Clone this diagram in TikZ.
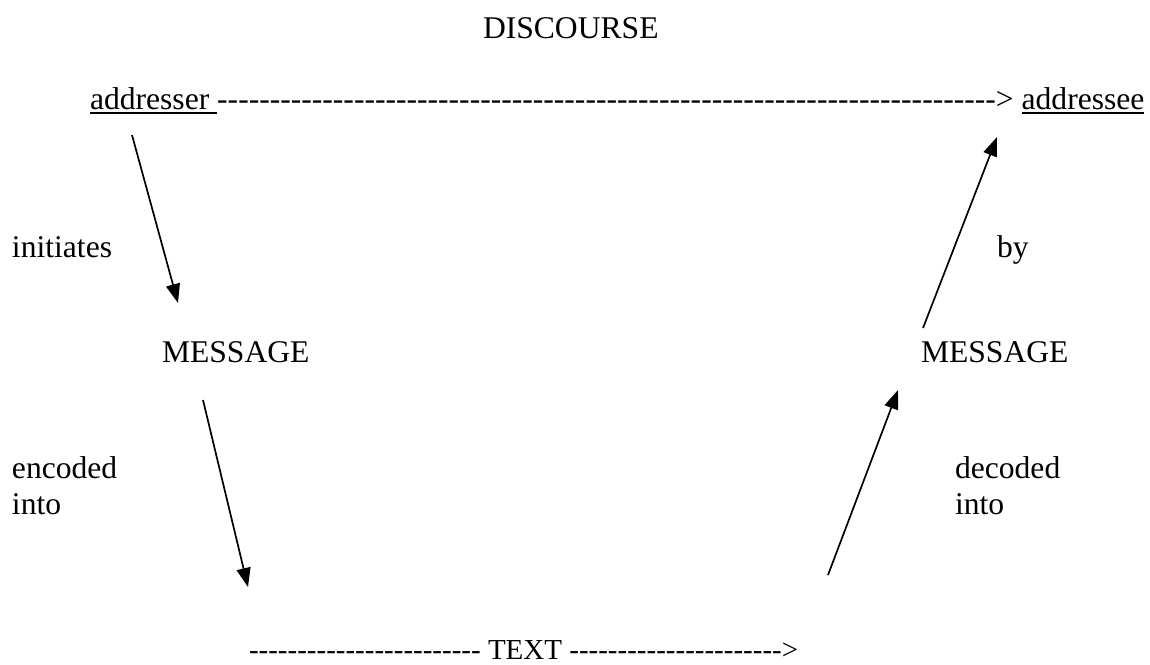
\documentclass[tikz,border=0pt]{standalone}
\usepackage{fontspec}
\setmainfont{Liberation Serif}
\usetikzlibrary{arrows.meta}
\newsavebox\ulbx
\newcommand\ulx[1]{\sbox\ulbx{#1}\rlap{\vrule height -3.3pt depth 5.3pt width \wd\ulbx}\usebox\ulbx}
\newcount\hycount
\newcommand\dashes[1]{\hycount=#1\relax\loop\hbox{-}\advance\hycount by -1\relax\ifnum\hycount>0\repeat}
\tikzset{
  lbl/.style={anchor=base west, inner sep=0pt, outer sep=0pt, font=\fontsize{31.6}{36}\selectfont},
  smalllbl/.style={lbl, font=\fontsize{29}{33}\selectfont, text depth=0pt},
  arr/.style={line width=1.7pt, -{Triangle[length=19pt,width=14pt]}}
}
\begin{document}
\begin{tikzpicture}[x=1pt,y=-1pt]
\useasboundingbox (0,0) rectangle (1150,664);
\node[lbl] (discourse) at (483,38) {DISCOURSE};
\node[lbl] (addresser) at (90,109) {\ulx{addresser\ }};
\node[lbl] (topdash) at (addresser.base east) {\dashes{74}>};
\node[lbl] (addressee) at (topdash.base east) {\kern0.25em\ulx{addressee}};
\node[lbl] (initiates) at (12,257) {initiates};
\node[lbl] (by) at (997,257) {by};
\node[lbl] (msgL) at (162,362) {MESSAGE};
\node[lbl] (msgR) at (921,362) {MESSAGE};
\node[lbl] (encoded) at (12,478) {encoded};
\node[lbl] (encinto) at (12,514) {into};
\node[lbl] (decoded) at (955,478) {decoded};
\node[lbl] (decinto) at (955,514) {into};
\node[smalllbl] (textline) at (249,659) {\dashes{24}\ TEXT\ \dashes{22}>};
\coordinate (a1s) at (132,135);
\coordinate (a1e) at (178,303);
\coordinate (a2s) at (203,400);
\coordinate (a2e) at (248,587);
\coordinate (a3s) at (828,575);
\coordinate (a3e) at (898,390);
\coordinate (a4s) at (923,328);
\coordinate (a4e) at (997,137);
\draw[arr] (a1s) -- (a1e);
\draw[arr] (a2s) -- (a2e);
\draw[arr] (a3s) -- (a3e);
\draw[arr] (a4s) -- (a4e);
\end{tikzpicture}
\end{document}
